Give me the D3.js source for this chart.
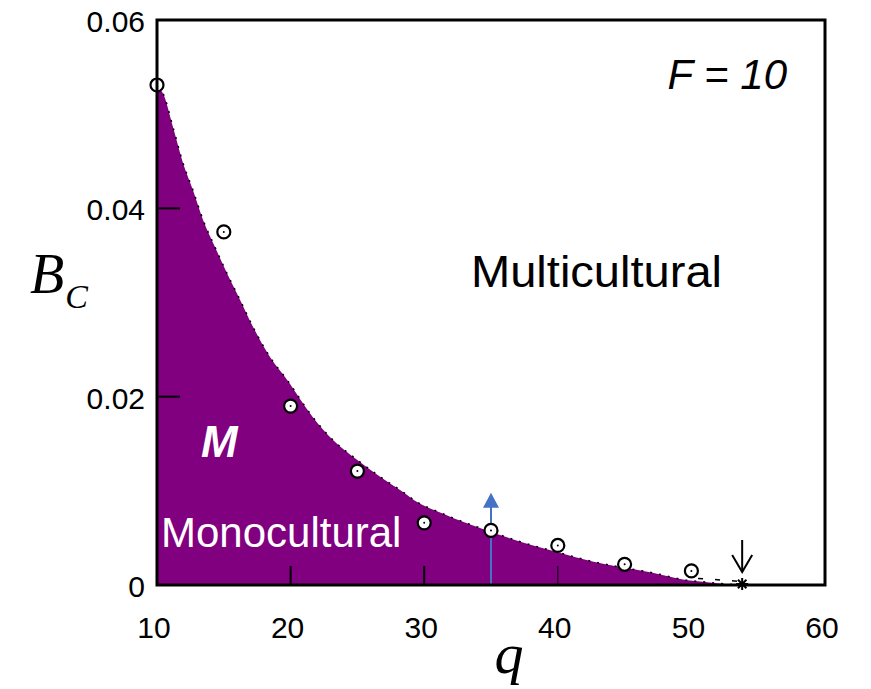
<!DOCTYPE html>
<html>
<head>
<meta charset="utf-8">
<script src="https://cdn.jsdelivr.net/npm/d3@7"></script>
<style>
  body { margin: 0; background: #fff; }
  text { font-family: Arial, "Liberation Sans", sans-serif; }
  text.serif { font-family: "Liberation Serif", "Times New Roman", serif; }
</style>
</head>
<body>
<div id="chart"></div>
<script>
// Phasengrenze (Rand der violetten Fläche)
const boundaryQ = [10, 10.45, 11.2, 11.95, 12.7, 13.44, 14.34, 15.24, 16.21, 17.19, 18.46, 19.73, 21.68, 23.17, 24.97, 26.7, 28.19, 29.6, 31.0, 32.2, 34.7, 37.2, 40.2, 42.6, 44.7, 47.1, 49.7, 51.2, 52.6, 54];
const boundaryB = [0.0528, 0.0522, 0.0486, 0.0448, 0.0419, 0.0388, 0.0359, 0.0331, 0.0303, 0.0274, 0.0242, 0.0218, 0.0178, 0.0154, 0.0133, 0.0115, 0.0101, 0.0087, 0.0078, 0.0071, 0.0058, 0.0046, 0.0034, 0.0025, 0.0019, 0.0013, 0.0005, 0.0003, 0.0001, 0];

// Simulationspunkte (offene Kreise)
const pointQ = [10, 15, 20, 25, 30, 35, 40, 45, 50];
const pointB = [0.0531, 0.0375, 0.0190, 0.0121, 0.0066, 0.0058, 0.0042, 0.0022, 0.0015];

const xTicks = [10, 20, 30, 40, 50, 60];
const yTicks = [0, 0.02, 0.04, 0.06];
const yTickLabels = ["0", "0.02", "0.04", "0.06"];
const innerXTicks = [20, 30, 40];
const innerYTicks = [0.02, 0.04];

const width = 668;
const height = 565;
const margin = { top: 20, right: 46, bottom: 104, left: 157 };

const svg = d3.select("#chart")
  .append("svg")
  .attr("width", 871)
  .attr("height", 689)
  .append("g")
  .attr("transform", `translate(${margin.left}, ${margin.top})`);

const x = d3.scaleLinear().domain([10, 60]).range([0, width]);
const y = d3.scaleLinear().domain([0, 0.06]).range([height, 0]);

const boundary = boundaryQ.map((q, i) => ({ q, b: boundaryB[i] }));
const points = pointQ.map((q, i) => ({ q, b: pointB[i] }));

// Monokulturelle Fläche
const area = d3.area()
  .x(d => x(d.q))
  .y0(height)
  .y1(d => y(d.b))
  .curve(d3.curveMonotoneX);

svg.append("path")
  .datum(boundary)
  .attr("d", area)
  .attr("fill", "#80007f");

// gepunktete Grenzlinie
svg.append("path")
  .datum(boundary)
  .attr("d", d3.line().x(d => x(d.q)).y(d => y(d.b)).curve(d3.curveMonotoneX))
  .attr("fill", "none")
  .attr("stroke", "#000")
  .attr("stroke-width", 1.5)
  .attr("stroke-dasharray", "2,7");

// kleine Striche hinter q = 50
svg.append("line")
  .attr("x1", x(50.5)).attr("x2", x(53.5))
  .attr("y1", y(0.0007)).attr("y2", y(0.0004))
  .attr("stroke", "#000")
  .attr("stroke-width", 1.5)
  .attr("stroke-dasharray", "5,12");

// innere Ticks
svg.selectAll(".xtick")
  .data(innerXTicks)
  .enter().append("line")
  .attr("x1", d => x(d)).attr("x2", d => x(d))
  .attr("y1", height).attr("y2", height - 19)
  .attr("stroke", "#000")
  .attr("stroke-width", d => d === 40 ? 1 : 2);

svg.selectAll(".ytick")
  .data(innerYTicks)
  .enter().append("line")
  .attr("x1", 0).attr("x2", 23)
  .attr("y1", d => y(d)).attr("y2", d => y(d))
  .attr("stroke", "#000")
  .attr("stroke-width", 2);

// blauer Pfeil bei q = 35
const arrowQ = 35;
const arrowTop = 0.0098;
svg.append("line")
  .attr("x1", x(arrowQ)).attr("x2", x(arrowQ))
  .attr("y1", height).attr("y2", y(arrowTop) + 12)
  .attr("stroke", "#4472c4")
  .attr("stroke-width", 2);
svg.append("path")
  .attr("d", `M${x(arrowQ) - 8},${y(arrowTop) + 15} L${x(arrowQ)},${y(arrowTop)} L${x(arrowQ) + 8},${y(arrowTop) + 15} Z`)
  .attr("fill", "#4472c4");

// Simulationspunkte
svg.selectAll(".pt")
  .data(points)
  .enter().append("circle")
  .attr("cx", d => x(d.q))
  .attr("cy", d => y(d.b))
  .attr("r", 6.5)
  .attr("fill", "#fff")
  .attr("stroke", "#000")
  .attr("stroke-width", 2.2);

svg.selectAll(".dot")
  .data(points)
  .enter().append("circle")
  .attr("cx", d => x(d.q))
  .attr("cy", d => y(d.b))
  .attr("r", 1)
  .attr("fill", "#000");

// Stern bei q = 54
const starQ = 53.8;
const star = svg.append("g").attr("transform", `translate(${x(starQ)},${y(0) - 1})`);
[0, 45, 90, 135].forEach(a => {
  star.append("line")
    .attr("x1", -6).attr("x2", 6).attr("y1", 0).attr("y2", 0)
    .attr("transform", `rotate(${a})`)
    .attr("stroke", "#000")
    .attr("stroke-width", 2);
});

// schwarzer Pfeil nach unten
svg.append("line")
  .attr("x1", x(starQ)).attr("x2", x(starQ))
  .attr("y1", height - 45).attr("y2", height - 13)
  .attr("stroke", "#000").attr("stroke-width", 2);
svg.append("path")
  .attr("d", `M${x(starQ) - 10},${height - 30} L${x(starQ)},${height - 13} L${x(starQ) + 10},${height - 30}`)
  .attr("fill", "none")
  .attr("stroke", "#000")
  .attr("stroke-width", 2);

// Rahmen
svg.append("rect")
  .attr("x", 0).attr("y", 0)
  .attr("width", width).attr("height", height)
  .attr("fill", "none")
  .attr("stroke", "#000")
  .attr("stroke-width", 3);

// Achsenbeschriftung
svg.selectAll(".xlab")
  .data(xTicks)
  .enter().append("text")
  .attr("x", d => x(d) - 3)
  .attr("y", height + 53)
  .attr("text-anchor", "middle")
  .attr("font-size", 30)
  .text(d => d);

svg.selectAll(".ylab")
  .data(yTicks)
  .enter().append("text")
  .attr("x", -12)
  .attr("y", d => y(d) + 12)
  .attr("text-anchor", "end")
  .attr("font-size", 30)
  .text((d, i) => yTickLabels[i]);

svg.append("text")
  .attr("class", "serif")
  .attr("x", x(35) + 18)
  .attr("y", 673 - margin.top)
  .attr("text-anchor", "middle")
  .attr("font-style", "italic")
  .attr("font-size", 58)
  .text("q");

const yLabel = svg.append("text")
  .attr("class", "serif")
  .attr("x", 30 - margin.left)
  .attr("y", 293 - margin.top)
  .attr("font-style", "italic")
  .attr("font-size", 56);
yLabel.append("tspan").text("B");
yLabel.append("tspan").attr("font-size", 34).attr("dy", 15).attr("dx", 1).text("C");

// Beschriftungen im Diagramm
svg.append("text")
  .attr("x", 787 - margin.left)
  .attr("y", 89 - margin.top)
  .attr("text-anchor", "end")
  .attr("font-style", "italic")
  .attr("font-size", 42)
  .text("F = 10");

svg.append("text")
  .attr("x", 471 - margin.left)
  .attr("y", 287 - margin.top)
  .attr("font-size", 45)
  .attr("textLength", 251)
  .attr("lengthAdjust", "spacingAndGlyphs")
  .text("Multicultural");

svg.append("text")
  .attr("x", 201 - margin.left)
  .attr("y", 457 - margin.top)
  .attr("font-size", 44)
  .attr("font-weight", "bold")
  .attr("font-style", "italic")
  .attr("fill", "#fff")
  .text("M");

svg.append("text")
  .attr("x", 161 - margin.left)
  .attr("y", 547 - margin.top)
  .attr("font-size", 42)
  .attr("fill", "#fff")
  .text("Monocultural");
</script>
</body>
</html>
